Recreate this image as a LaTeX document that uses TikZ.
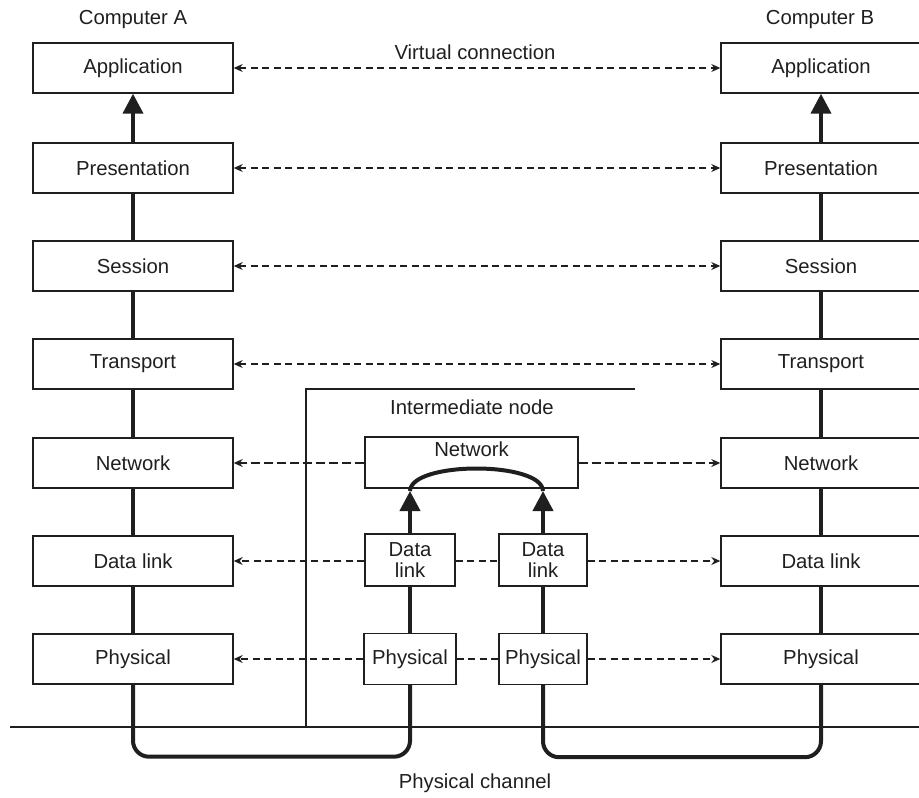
\documentclass[tikz,border=0pt]{standalone}
\usepackage{fontspec}
\setmainfont{Liberation Sans}
\usetikzlibrary{arrows.meta}
\definecolor{ink}{gray}{0.12}
\tikzset{
  txt/.style={inner sep=0pt, text=ink, font=\fontsize{20.3}{21}\selectfont, align=center},
  box/.style={txt, draw=ink, line width=1.4pt, minimum height=50pt},
  bigbox/.style={box, minimum width=200pt},
  thickline/.style={draw=ink, line width=4pt},
  uparrow/.style={thickline, -{Triangle[length=20pt,width=20pt]}},
  dashline/.style={draw=ink, line width=1.3pt, dash pattern=on 7pt off 4.5pt},
  dashbold/.style={draw=ink, line width=2.6pt, dash pattern=on 9pt off 4pt},
  dtip/.tip={Stealth[length=9pt,width=8pt]},
  thinline/.style={draw=ink, line width=1.4pt}
}
\begin{document}
\begin{tikzpicture}[x=1pt,y=-1pt]
\useasboundingbox (0,0) rectangle (919,798);

% Computer A stack
\node[bigbox] (A1) at (133,68) {Application};
\node[bigbox] (A2) at (133,168) {Presentation};
\node[bigbox] (A3) at (133,266) {Session};
\node[bigbox] (A4) at (133,364) {Transport};
\node[bigbox] (A5) at (133,463) {Network};
\node[bigbox] (A6) at (133,561) {Data link};
\node[bigbox] (A7) at (133,659) {Physical};

% Computer B stack
\node[bigbox] (B1) at (821,68) {Application};
\node[bigbox] (B2) at (821,168) {Presentation};
\node[bigbox] (B3) at (821,266) {Session};
\node[bigbox] (B4) at (821,364) {Transport};
\node[bigbox] (B5) at (821,463) {Network};
\node[bigbox] (B6) at (821,561) {Data link};
\node[bigbox] (B7) at (821,659) {Physical};

% titles
\node[txt] (tA) at (133,20) {Computer A};
\node[txt] (tB) at (820,20) {Computer B};
\node[txt] (tV) at (475,52) {Virtual connection};
\node[txt] (tI) at (472,407) {Intermediate node};
\node[txt] (tP) at (475,783) {Physical channel};

% intermediate node
\node[box, minimum width=213pt, minimum height=51pt] (IN) at (471.5,462.5) {};
\node[txt] (INt) at (471.5,449) {Network};
\node[box, minimum width=90pt, minimum height=52pt] (ID1) at (410,560) {Data\\link};
\node[box, minimum width=88pt, minimum height=52pt] (ID2) at (543,560) {Data\\link};
\node[box, minimum width=92pt, minimum height=51pt] (IP1) at (410,659) {Physical};
\node[box, minimum width=88pt, minimum height=51pt] (IP2) at (543,659) {Physical};

% channel and intermediate outline
\coordinate (c1) at (10,727);
\coordinate (c2) at (919,727);
\draw[thinline] (c1) -- (c2);
\coordinate (o1) at (306,727);
\coordinate (o2) at (306,389);
\coordinate (o3) at (635,389);
\draw[thinline] (o1) -- (o2) -- (o3);

% vertical stack lines
\draw[uparrow] (A2.north) -- (A1.south);
\draw[thickline] (A3.north) -- (A2.south);
\draw[thickline] (A4.north) -- (A3.south);
\draw[thickline] (A5.north) -- (A4.south);
\draw[thickline] (A6.north) -- (A5.south);
\draw[thickline] (A7.north) -- (A6.south);
\draw[uparrow] (B2.north) -- (B1.south);
\draw[thickline] (B3.north) -- (B2.south);
\draw[thickline] (B4.north) -- (B3.south);
\draw[thickline] (B5.north) -- (B4.south);
\draw[thickline] (B6.north) -- (B5.south);
\draw[thickline] (B7.north) -- (B6.south);

% intermediate vertical lines
\draw[thickline] (IP1.north) -- (ID1.south);
\draw[thickline] (IP2.north) -- (ID2.south);
\coordinate (a1) at (410,491);
\coordinate (a2) at (543,491);
\draw[uparrow] (ID1.north) -- (a1);
\draw[uparrow] (ID2.north) -- (a2);
\draw[thickline] (a1) .. controls (411,461) and (542,461) .. (a2);

% bottom physical paths
\draw[thickline, rounded corners=16pt] (A7.south) -- ++(0,72) -| (IP1.south);
\draw[thickline, rounded corners=16pt] (IP2.south) -- ++(0,72) -| (B7.south);

% virtual connections
\draw[dashline, dtip-dtip] (A1.east) -- (B1.west);
\draw[dashline, dtip-dtip] (A2.east) -- (B2.west);
\draw[dashline, dtip-dtip] (A3.east) -- (B3.west);
\draw[dashline, dtip-dtip] (A4.east) -- (B4.west);
\draw[dashbold, -dtip] (IN.west |- A5.east) -- (A5.east);
\draw[dashbold, -dtip] (IN.east |- B5.west) -- (B5.west);
\draw[dashline, -dtip] (ID1.west |- A6.east) -- (A6.east);
\draw[dashline] (ID1.east |- A6.east) -- (ID2.west |- A6.east);
\draw[dashline, -dtip] (ID2.east |- B6.west) -- (B6.west);
\draw[dashline, -dtip] (IP1.west) -- (A7.east);
\draw[dashline] (IP1.east) -- (IP2.west);
\draw[dashline, -dtip] (IP2.east) -- (B7.west);
\end{tikzpicture}
\end{document}
